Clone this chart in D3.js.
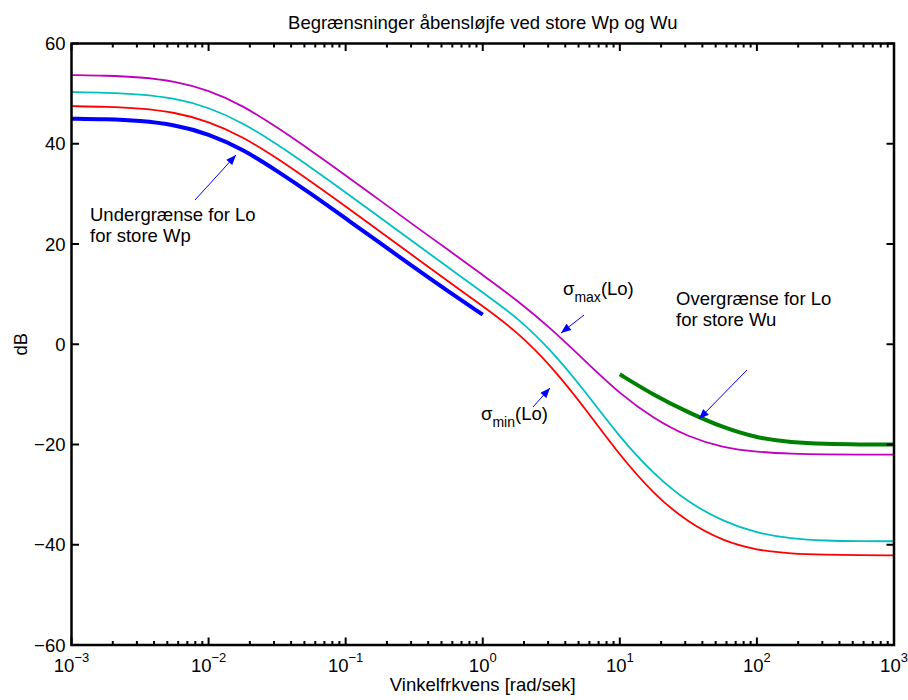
<!DOCTYPE html>
<html><head><meta charset="utf-8">
<script src="https://cdn.jsdelivr.net/npm/d3@7"></script>
<style>
body{margin:0;background:#fff;}
text{font-family:"Liberation Sans",Arial,Helvetica,sans-serif;}
</style></head>
<body>
<svg id="c" width="908" height="700"></svg>
<script>
// ---- data (frequencies in rad/s, quarter-decade steps; magnitudes in dB) ----
const freqMain = [0.001,0.00178,0.00316,0.00562,0.01,0.0178,0.0316,0.0562,0.1,0.178,0.316,0.562,1,
                  1.78,3.16,5.62,10,17.8,31.6,56.2,100,178,316,562,1000];
const sigmaMax = [53.7,53.6,53.3,52.5,50.7,47.6,43.3,38.6,33.7,28.7,23.7,18.8,13.8,
                  8.8,3.1,-3.4,-9.9,-14.9,-18.5,-20.6,-21.5,-21.85,-22.0,-22.0,-22.0];
const sigmaMid = [50.3,50.2,49.9,49.1,47.3,44.2,39.9,35.2,30.3,25.3,20.3,15.3,10.3,
                  5.4,-1.2,-9.5,-18.6,-26.0,-31.6,-35.3,-37.7,-38.8,-39.2,-39.3,-39.3];
const sigmaMin = [47.5,47.4,47.1,46.3,44.5,41.4,37.1,32.4,27.5,22.5,17.5,12.5,7.6,
                  2.5,-4.3,-12.9,-22.2,-30.0,-35.6,-39.2,-41.1,-41.8,-42.0,-42.1,-42.1];
const freqLow = [0.001,0.00178,0.00316,0.00562,0.01,0.0178,0.0316,0.0562,0.1,0.178,0.316,0.562,1];
const lowerBoundWp = [45.0,44.9,44.6,43.8,42.0,38.9,34.6,30.0,25.1,20.2,15.3,10.5,5.9];
const freqHigh = [10,17.8,31.6,56.2,100,178,316,562,1000];
const upperBoundWu = [-6.0,-10.2,-13.6,-16.6,-18.7,-19.6,-19.9,-20.0,-20.0];
const yTicks = [-60,-40,-20,0,20,40,60];
const xDecades = [-3,-2,-1,0,1,2,3];
const titleText = "Begrænsninger åbensløjfe ved store Wp og Wu";
const xLabel = "Vinkelfrkvens [rad/sek]";
const yLabel = "dB";

// ---- layout ----
const L = 71.5, R = 894, T = 43.5, B = 645;
const svg = d3.select("#c");
const x = d3.scaleLog().domain([1e-3,1e3]).range([L,R]);
const y = d3.scaleLinear().domain([-60,60]).range([B,T]);
const fs = 18.5;

svg.append("defs").append("marker")
  .attr("id","ah").attr("viewBox","0 0 10 8").attr("refX",10).attr("refY",4)
  .attr("markerWidth",11).attr("markerHeight",8).attr("markerUnits","userSpaceOnUse")
  .attr("orient","auto")
  .append("path").attr("d","M0,0 L10,4 L0,8 Z").attr("fill","#0000ff");

const line = d3.line().x(d=>x(d[0])).y(d=>y(d[1])).curve(d3.curveBasis);
function series(fr, vals, color, w){
  svg.append("path").datum(fr.map((f,i)=>[f,vals[i]]))
    .attr("d",line).attr("fill","none").attr("stroke",color)
    .attr("stroke-width",w).attr("stroke-linejoin","round");
}
series(freqMain, sigmaMax, "#bf00bf", 1.8);
series(freqMain, sigmaMid, "#00bfbf", 1.8);
series(freqMain, sigmaMin, "#ff0000", 1.8);
series(freqLow, lowerBoundWp, "#0000ff", 4);
series(freqHigh, upperBoundWu, "#008000", 4);

// ---- axes ----
const ax = svg.append("g");
const majors = xDecades.map(e=>Math.pow(10,e));
const minors = [];
for (let e=-3;e<3;e++) for (let k=2;k<10;k++) minors.push(k*Math.pow(10,e));
function vt(data, y0, len){
  ax.append("g").selectAll("line").data(data).join("line")
    .attr("x1",d=>x(d)).attr("x2",d=>x(d)).attr("y1",y0).attr("y2",y0+len)
    .attr("stroke","#000").attr("stroke-width",2);
}
vt(minors, B, -4); vt(minors, T, 4); vt(majors, B, -7.5); vt(majors, T, 7.5);
function ht(x0, len){
  ax.append("g").selectAll("line").data(yTicks).join("line")
    .attr("x1",x0).attr("x2",x0+len).attr("y1",d=>y(d)).attr("y2",d=>y(d))
    .attr("stroke","#000").attr("stroke-width",2);
}
ht(L, 7.5); ht(R, -7.5);
ax.append("rect").attr("x",L).attr("y",T).attr("width",R-L).attr("height",B-T)
  .attr("fill","none").attr("stroke","#000").attr("stroke-width",2.5);

// y tick labels
ax.append("g").selectAll("text").data(yTicks).join("text")
  .attr("x",L-6).attr("y",d=>y(d)+6.5).attr("text-anchor","end")
  .attr("font-size",fs).text(d=>d<0?"\u2212"+Math.abs(d):String(d));
// x tick labels
xDecades.forEach(e=>{
  const t = ax.append("text").attr("x",x(Math.pow(10,e))).attr("y",B+27)
    .attr("text-anchor","middle").attr("font-size",fs);
  t.append("tspan").text("10");
  t.append("tspan").attr("dy",-10).attr("font-size",13).text(e<0?"\u2212"+Math.abs(e):String(e));
});

// title & labels
svg.append("text").attr("x",(L+R)/2).attr("y",29).attr("text-anchor","middle")
  .attr("font-size",fs).text(titleText);
svg.append("text").attr("x",(L+R)/2).attr("y",691).attr("text-anchor","middle")
  .attr("font-size",fs).text(xLabel);
svg.append("text").attr("transform",`translate(27,${(T+B)/2}) rotate(-90)`)
  .attr("text-anchor","middle").attr("font-size",fs).text(yLabel);

// ---- annotations ----
function arrow(x1,y1,x2,y2){
  svg.append("line").attr("x1",x1).attr("y1",y1).attr("x2",x2).attr("y2",y2)
    .attr("stroke","#0000ff").attr("stroke-width",1).attr("marker-end","url(#ah)");
}
function label(xp, yp, lines){
  lines.forEach((s,i)=>svg.append("text").attr("x",xp).attr("y",yp+i*21)
    .attr("font-size",fs).text(s));
}
label(90, 221, ["Undergrænse for Lo","for store Wp"]);
arrow(195,200,236,155);
label(676, 305, ["Overgrænse for Lo","for store Wu"]);
arrow(747,370,699,419);
function sigma(xp, yp, sub){
  const t = svg.append("text").attr("x",xp).attr("y",yp).attr("font-size",fs);
  t.append("tspan").text("\u03c3");
  t.append("tspan").attr("dy",7).attr("font-size",14).text(sub);
  t.append("tspan").attr("dy",-7).text("(Lo)");
}
sigma(563, 295, "max");
arrow(584,315,561,333);
sigma(481, 420, "min");
arrow(533,407,550,388);
</script>
</body></html>
